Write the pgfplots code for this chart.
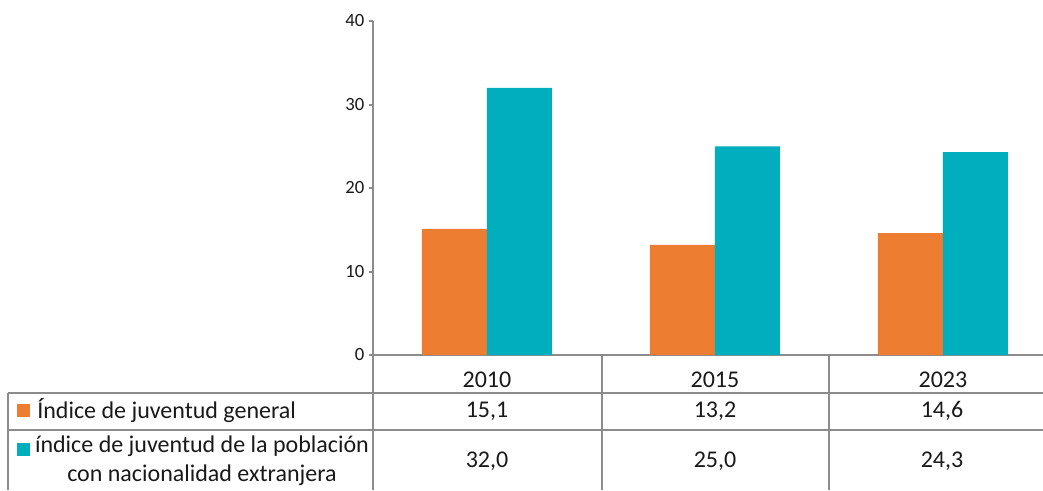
\documentclass[border=0pt]{standalone}
\usepackage{fontspec}
\setmainfont{Carlito}
\usepackage{pgfplots}
\pgfplotsset{compat=1.18}
\definecolor{naranja}{HTML}{ED7D31}
\definecolor{turquesa}{HTML}{00AEBD}
\definecolor{rejilla}{HTML}{8C8C8C}
\newcommand{\tabfont}{\fontsize{18pt}{21.5pt}\selectfont}
\begin{document}
\begin{tikzpicture}
\useasboundingbox (0,0) rectangle (782.25pt,367.5pt);
\begin{axis}[
    at={(279.75pt,101.25pt)}, anchor=south west,
    scale only axis, width=502.5pt, height=250.5pt,
    xmin=-0.5, xmax=2.439, ymin=0, ymax=40,
    axis x line*=bottom, axis y line*=left,
    axis line style={draw=rejilla, line width=1.5pt, -},
    ytick={0,10,20,30,40},
    tick align=outside, major tick length=3pt,
    ytick style={draw=rejilla, line width=1.5pt},
    xtick={0,1,2}, xticklabels={2010,2015,2023},
    xtick style={draw=none},
    xticklabel style={anchor=center, yshift=-15.75pt, font=\tabfont, text=black!90},
    yticklabel style={font=\fontsize{14pt}{16pt}\selectfont, text=black!90},
    /pgf/number format/assume math mode=true,
    clip=false,
]
\addplot[ybar, bar width=48.75pt, bar shift=-24.375pt, fill=naranja, draw=none]
    coordinates {(0,15.1) (1,13.2) (2,14.6)};
\addplot[ybar, bar width=48.75pt, bar shift=24.375pt, fill=turquesa, draw=none]
    coordinates {(0,32.0) (1,25.0) (2,24.3)};
\end{axis}
% data table under the chart, in pixels of the reference (y downwards)
\begin{scope}[x=0.75pt, y=-0.75pt, shift={(0pt,367.5pt)}]
  \begin{scope}[draw=rejilla, line width=1.5pt]
    \draw (373,355) -- (373,490);
    \draw (602,355) -- (602,490);
    \draw (829,355) -- (829,490);
    \draw (8,393) -- (1043,393);
    \draw (8,430) -- (1043,430);
    \draw (8,393) -- (8,490);
  \end{scope}
  \fill[naranja] (17,404) rectangle (30,417);
  \fill[turquesa] (17,443) rectangle (30,456);
  \begin{scope}[every node/.style={font=\tabfont, text=black!90, inner sep=0pt}]
    \node[anchor=west] at (37,411) {Índice de juventud general};
    \node[align=center] at (202,461) {índice de juventud de la población\\con nacionalidad extranjera};
    \node at (487,411) {15,1};
    \node at (715,411) {13,2};
    \node at (942,411) {14,6};
    \node at (487,461) {32,0};
    \node at (715,461) {25,0};
    \node at (942,461) {24,3};
  \end{scope}
\end{scope}
\end{tikzpicture}
\end{document}
